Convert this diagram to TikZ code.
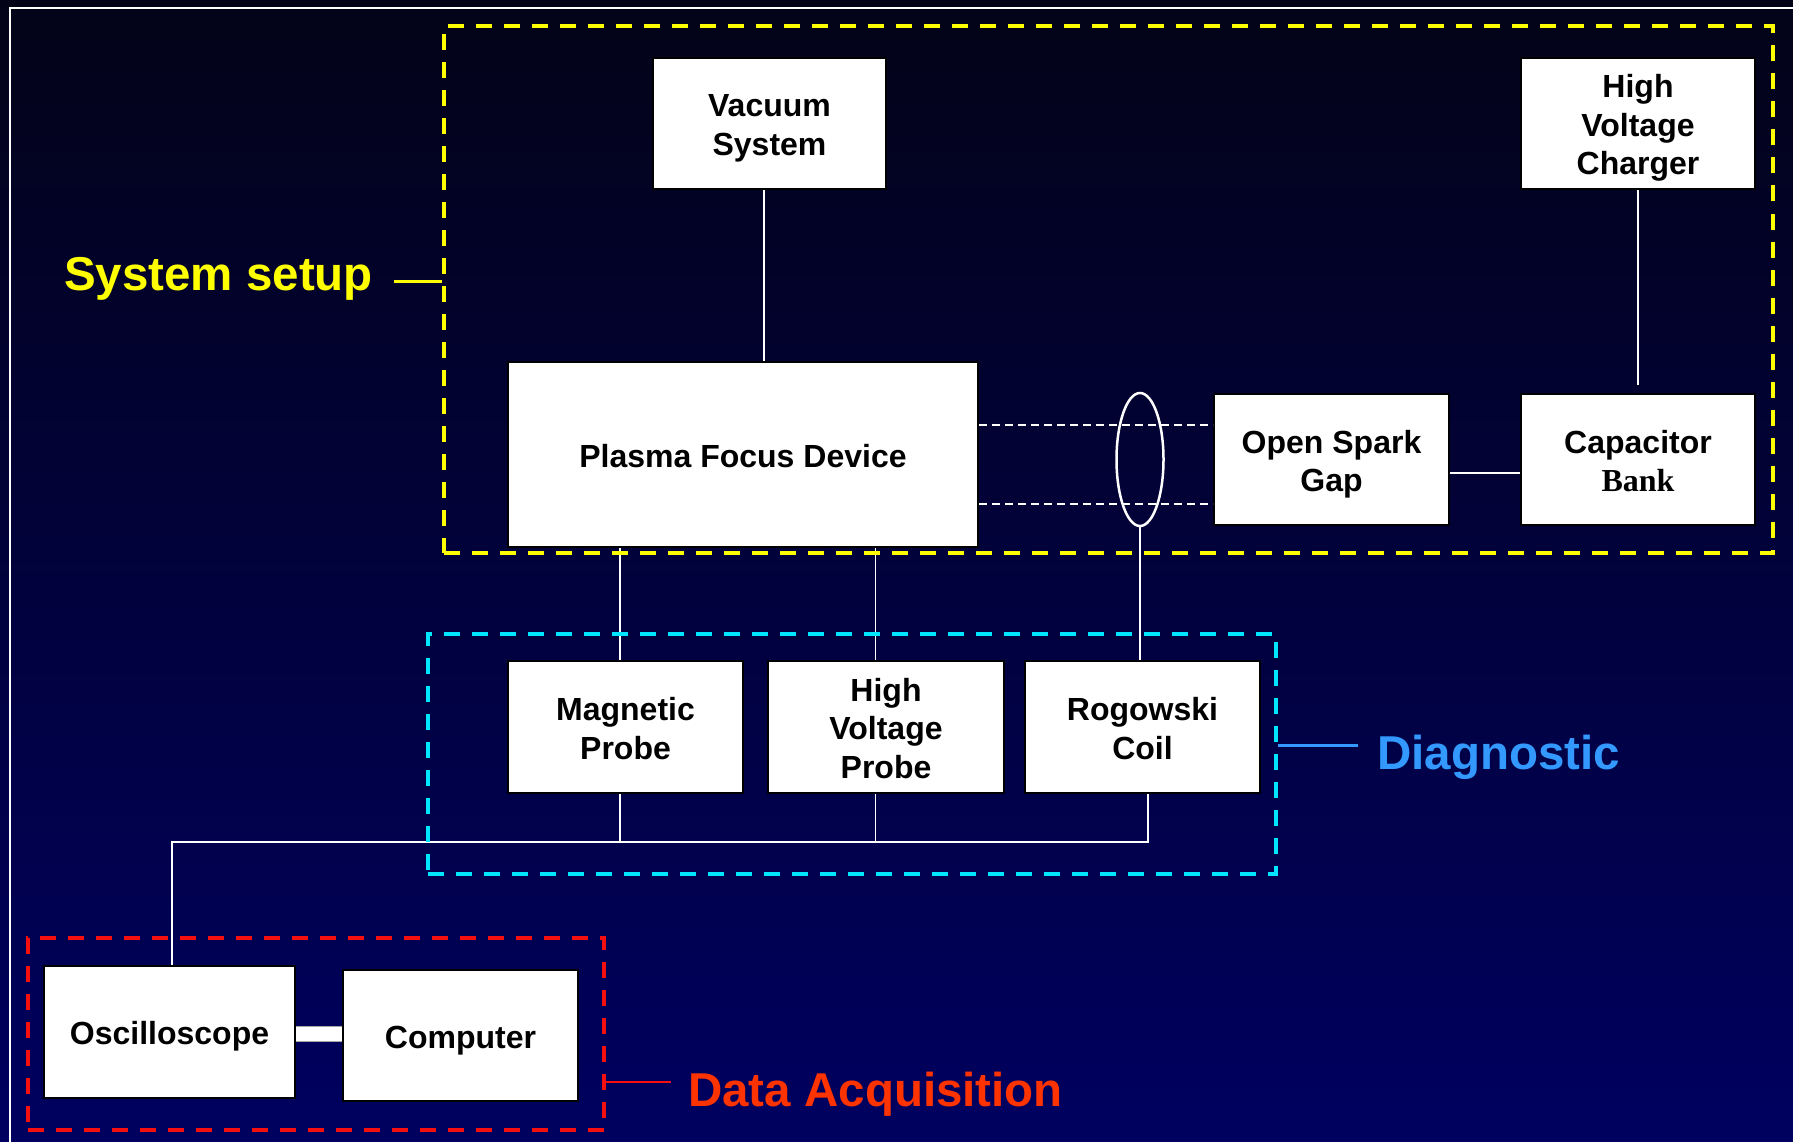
\documentclass[tikz,border=0pt]{standalone}
\usepackage{fontspec}
\setmainfont{Liberation Sans}
\newfontfamily\serifbank{Liberation Serif}
\usetikzlibrary{shapes.geometric}
\definecolor{bgtop}{RGB}{3,3,24}
\definecolor{bgbot}{RGB}{0,0,96}
\definecolor{setupY}{RGB}{255,255,0}
\definecolor{diagC}{RGB}{0,230,255}
\definecolor{diagT}{RGB}{51,153,255}
\definecolor{daqR}{RGB}{245,15,15}
\definecolor{daqT}{RGB}{255,51,0}
\newcommand\tstrut{\rule{0pt}{33pt}}
\newcommand\bstrut{\rule[-7.5pt]{0pt}{7.5pt}}
\begin{document}
\begin{tikzpicture}[x=1pt,y=-1pt,
  blk/.style={draw=black, fill=white, line width=2pt, inner sep=0pt, align=center, text=black,
    font=\fontsize{32}{38.5}\selectfont\bfseries},
  frame/.style={line width=3.5pt, dash pattern=on 16pt off 12pt, inner sep=0pt},
  wire/.style={draw=white, line width=1.8pt},
  dwire/.style={draw=white, line width=2pt, dash pattern=on 8pt off 5pt},
  lbl/.style={anchor=base west, inner sep=0pt, font=\fontsize{47.5}{56}\selectfont\bfseries}]

\useasboundingbox (0,0) rectangle (1793,1142);
\shade[top color=bgtop, bottom color=bgbot] (0,0) rectangle (1793,1142);
\draw[white, line width=2pt] (10,1142) -- (10,8) -- (1793,8);

% blocks
\node[blk, minimum width=233pt, minimum height=131pt] (vac) at (769.5,123.5) {\tstrut Vacuum\\System\bstrut};
\node[blk, minimum width=234pt, minimum height=131pt] (hvc) at (1638,123.5) {\tstrut High\\Voltage\\Charger\bstrut};
\node[blk, minimum width=470pt, minimum height=185pt] (pfd) at (743,454.5) {\tstrut Plasma Focus Device\bstrut};
\node[blk, minimum width=235pt, minimum height=131pt] (osg) at (1331.5,459.5) {\tstrut Open Spark\\Gap\bstrut};
\node[blk, minimum width=234pt, minimum height=131pt] (cap) at (1638,459.5) {\tstrut Capacitor\\{\serifbank Bank}\bstrut};
\node[draw=white, line width=2.5pt, ellipse, minimum width=47pt, minimum height=133pt, inner sep=0pt] (ring) at (1140,459.5) {};
\node[blk, minimum width=235pt, minimum height=132pt] (mag) at (625.5,727) {\tstrut Magnetic\\Probe\bstrut};
\node[blk, minimum width=236pt, minimum height=132pt] (hvp) at (886,727) {\tstrut High\\Voltage\\Probe\bstrut};
\node[blk, minimum width=235pt, minimum height=132pt] (rog) at (1142.5,727) {\tstrut Rogowski\\Coil\bstrut};
\node[blk, minimum width=251pt, minimum height=132pt] (osc) at (169.5,1032) {\tstrut Oscilloscope\bstrut};
\node[blk, minimum width=235pt, minimum height=131pt] (comp) at (460.5,1035.5) {\tstrut Computer\bstrut};

% connectors
\draw[wire] ([xshift=-5.5pt]vac.south) -- ([xshift=-5.5pt]vac.south |- pfd.north);
\draw[wire] (hvc.south) -- ([yshift=8pt]cap.north);
\draw[wire] ([yshift=-13.5pt]osg.east) -- ([yshift=-13.5pt]cap.west);
\draw[dwire] ([yshift=29.5pt]pfd.east) -- ([yshift=29.5pt]pfd.east -| osg.west);
\draw[dwire] ([yshift=-49.5pt]pfd.east) -- ([yshift=-49.5pt]pfd.east -| osg.west);
\draw[wire] ([xshift=-5.5pt]mag.north) -- ([xshift=-5.5pt]mag.north |- pfd.south);
\draw[wire] ([xshift=-10.5pt]hvp.north) -- ([xshift=-10.5pt]hvp.north |- pfd.south);
\draw[wire] (ring.south) -- (ring.south |- rog.north);

\coordinate (bus) at (172,842);
\draw[wire] ([xshift=5.5pt]rog.south) |- (bus) -- (bus |- osc.north);
\draw[wire] ([xshift=-5.5pt]mag.south) -- ([xshift=-5.5pt]mag.south |- bus);
\draw[wire] ([xshift=-10.5pt]hvp.south) -- ([xshift=-10.5pt]hvp.south |- bus);
\draw[draw=gray!70, line width=1pt, double=white, double distance=14pt] ([yshift=-2pt]osc.east) -- ([yshift=-2pt]osc.east -| comp.west);

% group frames
\node[frame, draw=setupY, line width=4pt, minimum width=1328.5pt, minimum height=527pt] (setupframe) at (1108.25,289.5) {};
\node[frame, draw=diagC, minimum width=848pt, minimum height=240pt] (diagframe) at (852,754) {};
\node[frame, draw=daqR, minimum width=576pt, minimum height=192pt] (daqframe) at (316,1034) {};

% group labels
\node[lbl, text=setupY] (lsetup) at (64,290) {System setup};
\draw[setupY, line width=3pt] ([yshift=8.5pt]setupframe.west) -- ++(-48,0);
\node[lbl, text=diagT] (ldiag) at (1377,769) {Diagnostic};
\draw[diagT, line width=3pt] ([yshift=8.5pt]diagframe.east) -- ++(80,0);
\node[lbl, text=daqT] (ldaq) at (688,1106) {Data Acquisition};
\draw[daqR, line width=2pt] ([yshift=-47.5pt]daqframe.east) -- ++(65,0);
\end{tikzpicture}
\end{document}
